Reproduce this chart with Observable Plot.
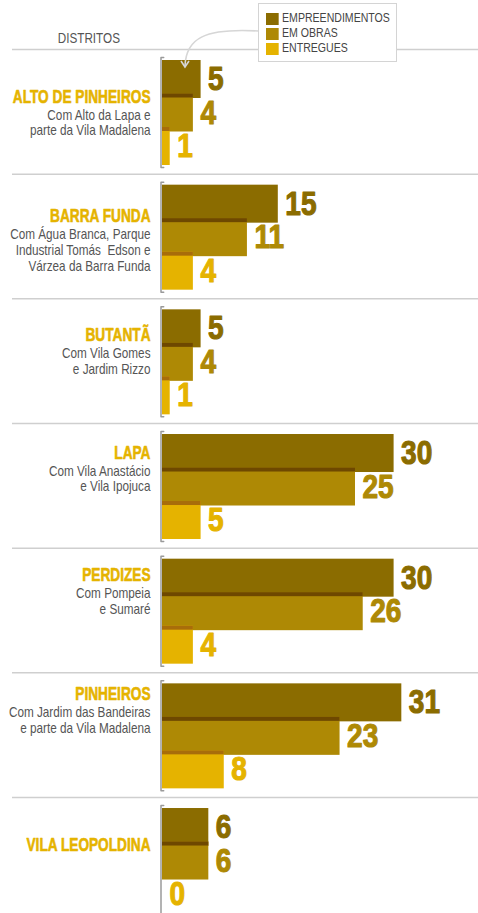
<!DOCTYPE html>
<html><head><meta charset="utf-8">
<script src="https://cdn.jsdelivr.net/npm/d3@7"></script>
<script src="https://cdn.jsdelivr.net/npm/@observablehq/plot@0.6"></script>
<style>
body{margin:0;background:#fff;}
#chart{position:relative;width:478px;height:913px;overflow:hidden;font-family:"Liberation Sans",Arial,sans-serif;}
#chart svg.main{position:absolute;left:0;top:0;}
#hdr{position:absolute;left:39px;width:100px;top:30px;text-align:center;font-size:15px;line-height:15px;color:#555;}
#hdr span{display:inline-block;transform:scaleX(0.78);transform-origin:center;}
#lg{position:absolute;left:258px;top:3px;width:139px;height:59px;background:#fff;border:1.5px solid #d4d4d4;box-sizing:border-box;padding:7px 0 0 7px;overflow:visible;}
#lg .lgk-swatches{width:175px !important;transform:scaleX(0.845);transform-origin:left top;margin:0 !important;min-height:0 !important;}
#lg .lgk-swatch{margin:0 !important;padding:0 !important;height:15px !important;line-height:15px !important;display:flex;align-items:center;}
#lg .lgk-swatch svg{margin-right:4px !important;}
#arrow{position:absolute;left:0;top:0;}
</style></head><body><div id="chart"></div>
<script>
// ---- data ----
const districts = ["ALTO DE PINHEIROS","BARRA FUNDA","BUTANTÃ","LAPA","PERDIZES","PINHEIROS","VILA LEOPOLDINA"];
const subtitles = [
  "Com Alto da Lapa e\nparte da Vila Madalena",
  "Com Água Branca, Parque\nIndustrial Tomás  Edson e\nVárzea da Barra Funda",
  "Com Vila Gomes\ne Jardim Rizzo",
  "Com Vila Anastácio\ne Vila Ipojuca",
  "Com Pompeia\ne Sumaré",
  "Com Jardim das Bandeiras\ne parte da Vila Madalena",
  ""
];
const series = ["EMPREENDIMENTOS","EM OBRAS","ENTREGUES"];
const empreendimentos = [5,15,5,30,30,31,6];
const emObras = [4,11,4,25,26,23,6];
const entregues = [1,4,1,5,4,8,0];

// ---- styles / layout ----
const colors = ["#8b6c00","#ae8905","#e5b300"];
const stripColors = [null,"#6e4800","#a86d0a"];
const GROUP = 124.67, BAR_TOP = 11, BAR_STEP = 33.5, BAR_H = 38, STRIP_H = 4;
const nameBaseline = [53,48,42,35,33,27,53];   // label placement within each group (px)
const NUM_FONT = 33, NAME_FONT = 18, SUB_FONT = 14;
const FONT = '"Liberation Sans",Arial,sans-serif';

const valuesBySeries = [empreendimentos, emObras, entregues];
const rows = [];
districts.forEach((d, g) => series.forEach((s, si) => {
  const y1 = g * GROUP + BAR_TOP + si * BAR_STEP;
  rows.push({district: d, g, series: s, si, value: valuesBySeries[si][g], y1, y2: y1 + BAR_H, yc: y1 + BAR_H / 2});
}));
const strips = rows.filter(r => r.si > 0).map(r => ({...r, y2: r.y1 + STRIP_H}));
const groups = districts.map((d, g) => ({district: d, g, sub: subtitles[g], top: g * GROUP}));
const bracket = groups.flatMap(gr => [
  {g: gr.g, x: 0.35, y: gr.top + 8},
  {g: gr.g, x: 0, y: gr.top + 8},
  {g: gr.g, x: 0, y: gr.top + 118},
  {g: gr.g, x: 0.35, y: gr.top + 118}
]);

const KX = 7.72, X0 = 162, W = 478, H = 913, TOP = 49, LEFT = 12;
const plot = Plot.plot({
  width: W, height: H,
  marginTop: TOP, marginBottom: 0, marginLeft: LEFT, marginRight: 0,
  x: {domain: [-(X0 - LEFT) / KX, (W - X0) / KX], axis: null},
  y: {domain: [0, H - TOP], reverse: true, axis: null},
  style: {fontFamily: FONT, background: "transparent", overflow: "visible"},
  marks: [
    Plot.ruleY(groups, {y: "top", stroke: "#cfcfcf", strokeWidth: 1.5}),
    Plot.line(bracket, {x: "x", y: "y", z: "g", stroke: "#9a9a9a", strokeWidth: 1.5, dx: -1.5}),
    Plot.rectX(rows, {x1: 0, x2: "value", y1: "y1", y2: "y2", fill: d => colors[d.si]}),
    Plot.rectX(strips, {x1: 0, x2: "value", y1: "y1", y2: "y2", fill: d => stripColors[d.si]}),
    Plot.text(rows, {x: "value", y: "yc", text: d => String(d.value), dx: 7, textAnchor: "start", lineAnchor: "middle",
      fill: d => colors[d.si], stroke: d => colors[d.si], strokeWidth: 1.1, fontWeight: "bold", fontSize: NUM_FONT}),
    Plot.text(groups, {x: 0, y: d => d.top + nameBaseline[d.g] - 0.71 * NAME_FONT, text: "district", dx: -12,
      textAnchor: "end", lineAnchor: "top", fill: "#e5b300", stroke: "#e5b300", strokeWidth: 0.6, fontWeight: "bold", fontSize: NAME_FONT}),
    Plot.text(groups, {x: 0, y: d => d.top + nameBaseline[d.g] + 16 - 0.71 * SUB_FONT, text: "sub", dx: -12,
      textAnchor: "end", lineAnchor: "top", lineHeight: 1.12, fill: "#555", fontSize: SUB_FONT})
  ]
});
plot.classList.add("main");

// condense the text (narrow typeface look): append a horizontal scale after each text's translate
function squeeze(g, s) {
  g.querySelectorAll(":scope > text").forEach(t => {
    const tr = t.getAttribute("transform") || "";
    t.setAttribute("transform", tr + ` scale(${s},1)`);
  });
}
const tg = plot.querySelectorAll('g[aria-label="text"]');
squeeze(tg[0], 0.85);
squeeze(tg[1], 0.76);
squeeze(tg[2], 0.84);

const chart = document.getElementById("chart");
chart.appendChild(plot);

const hdr = document.createElement("div");
hdr.id = "hdr"; hdr.innerHTML = "<span>DISTRITOS</span>";
chart.appendChild(hdr);

// arrow from legend to first bar
const ns = "http://www.w3.org/2000/svg";
const arrow = document.createElementNS(ns, "svg");
arrow.setAttribute("id", "arrow"); arrow.setAttribute("width", W); arrow.setAttribute("height", 80);
arrow.innerHTML = '<path d="M258,31 C205,28 186,38 185,66" fill="none" stroke="#d6d6d6" stroke-width="1.6"/>' +
  '<path d="M181,61 L185,67 L189,61" fill="none" stroke="#d6d6d6" stroke-width="1.6"/>';
chart.appendChild(arrow);

const lg = document.createElement("div");
lg.id = "lg";
lg.appendChild(Plot.legend({
  color: {type: "ordinal", domain: series, range: colors},
  columns: 1, swatchWidth: 15, swatchHeight: 12, className: "lgk",
  style: {fontFamily: FONT, fontSize: "12.5px", color: "#444"}
}));
chart.appendChild(lg);
</script>
</body></html>
